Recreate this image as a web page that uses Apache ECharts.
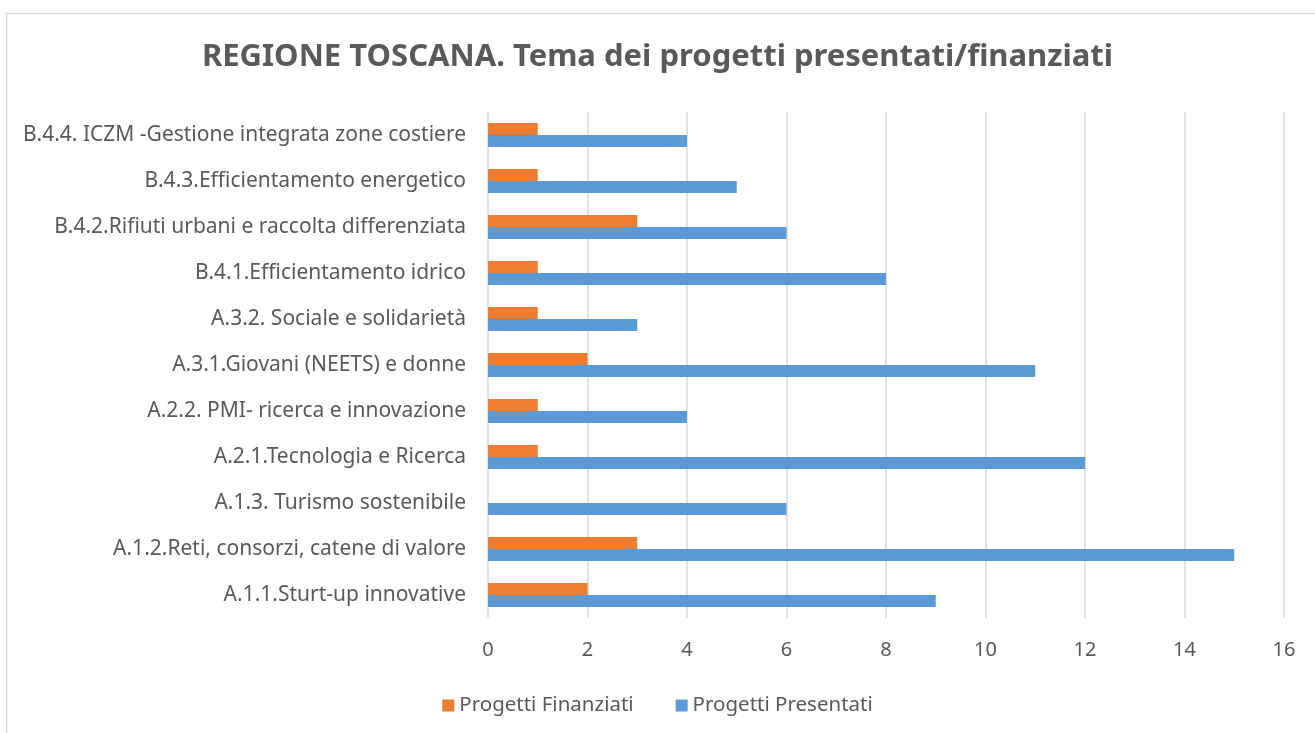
<!DOCTYPE html>
<html>
<head>
<meta charset="utf-8">
<script src="https://cdn.jsdelivr.net/npm/echarts@6/dist/echarts.min.js"></script>
<style>
  html, body { margin: 0; padding: 0; background: #fff; }
  #chart { width: 1315px; height: 733px; }
</style>
</head>
<body>
<div id="chart"></div>
<script>
// categories, bottom to top as in the picture
const categories = [
  'A.1.1.Sturt-up innovative',
  'A.1.2.Reti, consorzi, catene di valore',
  'A.1.3. Turismo sostenibile',
  'A.2.1.Tecnologia e Ricerca',
  'A.2.2. PMI- ricerca e innovazione',
  'A.3.1.Giovani (NEETS) e donne',
  'A.3.2. Sociale e solidarietà',
  'B.4.1.Efficientamento idrico',
  'B.4.2.Rifiuti urbani e raccolta differenziata',
  'B.4.3.Efficientamento energetico',
  'B.4.4. ICZM -Gestione integrata zone costiere'
]
const finanziati = [2, 3, 0, 1, 1, 2, 1, 1, 3, 1, 1]
const presentati = [9, 15, 6, 12, 4, 11, 3, 8, 6, 5, 4]

const font = 'Noto Sans'
const textColor = '#595959'

const chart = echarts.init(document.getElementById('chart'))
chart.setOption({
  backgroundColor: '#ffffff',
  animation: false,
  textStyle: { fontFamily: font },
  graphic: [{
    type: 'rect',
    shape: { x: 6.5, y: 13.5, width: 1400, height: 800 },
    style: { fill: 'none', stroke: '#d9d9d9', lineWidth: 1.5 }
  }],
  title: {
    text: 'REGIONE TOSCANA. Tema dei progetti presentati/finanziati',
    left: 'center',
    top: 37,
    textStyle: {
      fontFamily: font,
      fontWeight: 'bold',
      fontSize: 31,
      color: textColor
    }
  },
  legend: {
    bottom: 12,
    left: 'center',
    icon: 'rect',
    itemWidth: 12,
    itemHeight: 12,
    itemGap: 42,
    textStyle: { fontFamily: font, fontSize: 20.5, color: textColor },
    data: ['Progetti Finanziati', 'Progetti Presentati']
  },
  grid: {
    left: 488,
    right: 31,
    top: 112,
    bottom: 115
  },
  xAxis: {
    type: 'value',
    min: 0,
    max: 16,
    interval: 2,
    axisLine: { show: false },
    axisTick: { show: false },
    axisLabel: { margin: 22, fontSize: 20, color: textColor, fontFamily: font },
    splitLine: { lineStyle: { color: '#d9d9d9', width: 1.5 } }
  },
  yAxis: {
    type: 'category',
    data: categories,
    axisLine: { show: false },
    axisTick: { show: false },
    axisLabel: { margin: 22, fontSize: 21, color: textColor, fontFamily: font }
  },
  series: [{
    name: 'Progetti Finanziati',
    type: 'bar',
    data: finanziati,
    barWidth: 12,
    barGap: '0%',
    itemStyle: { color: '#ed7d31' }
  }, {
    name: 'Progetti Presentati',
    type: 'bar',
    data: presentati,
    barWidth: 12,
    barGap: '0%',
    itemStyle: { color: '#5b9bd5' }
  }]
})
</script>
</body>
</html>
